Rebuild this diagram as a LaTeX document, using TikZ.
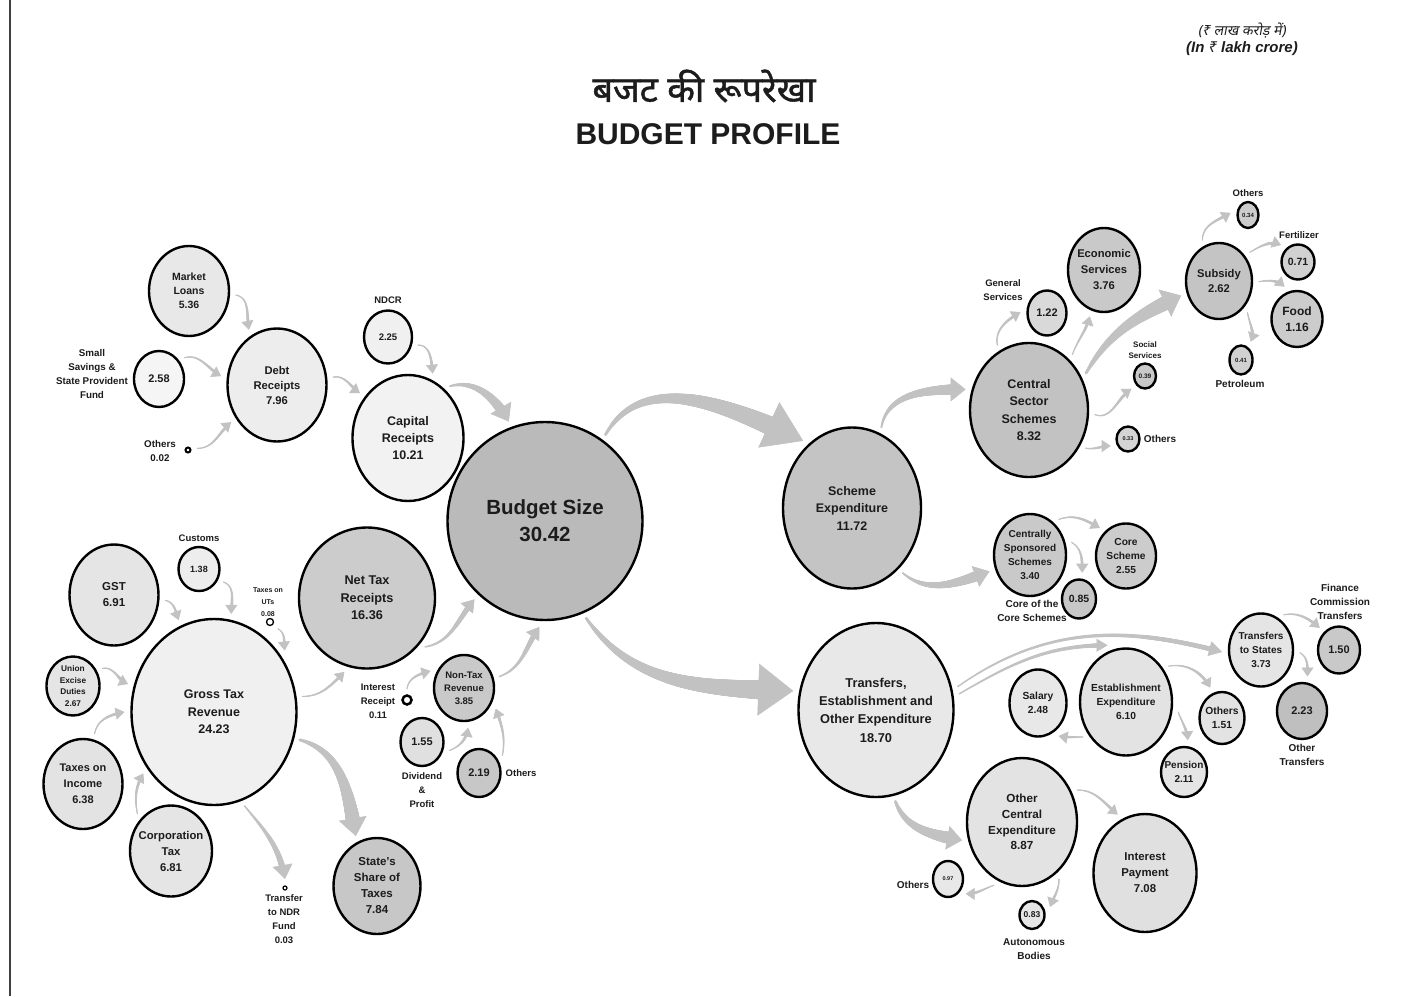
\documentclass[tikz,border=0pt]{standalone}
\usepackage{fontspec}
\setmainfont{Liberation Sans}
\newfontfamily\deva[Script=Devanagari,FakeBold=1.3]{Noto Sans}
\newfontfamily\devai[Script=Devanagari,FakeSlant=0.18]{Noto Sans}
\newfontfamily\rupeefont{Noto Sans}
\usetikzlibrary{shapes.geometric,arrows.meta,decorations.markings}
\newcommand\fsz[2]{\fontsize{#1}{#2}\selectfont}
\definecolor{txt}{HTML}{1C1C1C}
\colorlet{agray}{black!24}
\tikzset{
  bub/.style={ellipse, draw=black, line width=2.4pt, inner sep=0pt, outer sep=7pt},
  lbl/.style={align=center, text=txt, font=\bfseries, inner sep=0pt},
  taper/.style n args={4}{
    draw=agray, line width=0.6pt,
    -{Triangle[length=#3,width=#4]},
    postaction={decorate,decoration={markings,
      mark=between positions 0 and -#3 step 0.6pt with {%
        \pgfmathsetmacro\tapr{#1+(#2-#1)*\pgfkeysvalueof{/pgf/decoration/mark info/distance from start}/\pgfdecoratedpathlength}%
        \fill[agray] (0pt,0pt) circle[radius=\tapr pt];
      }}}
  },
  tarr/.style={taper={0.6}{1.8}{9pt}{12pt}}
}
\newcommand\mkbub[8]{%
  \node[bub, fill=#6, minimum width=#4pt, minimum height=#5pt] (#1) at (#2,-#3) {};
  \node[lbl, font=\bfseries#7] (#1t) at (#2,-#3) {#8};
}
\begin{document}
\begin{tikzpicture}[x=1pt,y=1pt]
\useasboundingbox (0,0) rectangle (1424,-996);
\fill[white] (0,0) rectangle (1424,-996);
\draw[line width=1.6pt, black!75] (10,0) -- (10,-996);

% titles
\node[font=\deva\fsz{36}{40}, text=txt] (h1) at (704,-86) {बजट की रूपरेखा};
\node[font=\bfseries\fsz{30}{36}, text=txt] (h2) at (708,-134) {BUDGET PROFILE};
\node[font=\devai\fsz{14}{16}, text=txt] (u1) at (1242,-31) {(₹ लाख करोड़ में)};
\node[font=\bfseries\itshape\fsz{15}{18}, text=txt] (u2) at (1242,-49) {(In {\rupeefont\bfseries\itshape ₹} lakh crore)};

% ---------- left bubbles
\mkbub{ml}{189}{291}{80}{90}{black!9}{\fsz{10.5}{14}}{Market\\Loans\\5.36}
\mkbub{ss}{159}{379}{50}{56}{black!4}{\fsz{11}{14}}{2.58}
\mkbub{debt}{277}{385}{99}{113}{black!7}{\fsz{11.2}{15}}{Debt\\Receipts\\7.96}
\node[bub, line width=2pt, fill=white, minimum size=5pt] (oth1) at (188,-450) {};
\mkbub{ndcr}{388}{337}{48}{53}{black!6}{\fsz{9.5}{12}}{2.25}
\mkbub{cap}{408}{438}{111}{126}{black!5}{\fsz{12.5}{17}}{Capital\\Receipts\\10.21}
\mkbub{bud}{545}{521}{195}{198}{black!27}{\fsz{20.5}{27}}{Budget Size\\30.42}
\mkbub{gst}{114}{595}{89}{101}{black!10}{\fsz{11.5}{16}}{GST\\6.91}
\mkbub{cus}{199}{569}{41}{44}{black!7}{\fsz{9}{12}}{1.38}
\node[bub, line width=1.3pt, fill=white, minimum size=7pt] (uts) at (270,-622) {};
\mkbub{ued}{73}{686}{53}{59}{black!10}{\fsz{8.3}{11.5}}{Union\\Excise\\Duties\\2.67}
\mkbub{gtr}{214}{712}{165}{186}{black!6}{\fsz{12.5}{17.5}}{Gross Tax\\Revenue\\24.23}
\mkbub{inc}{83}{784}{79}{90}{black!11}{\fsz{11}{16}}{Taxes on\\Income\\6.38}
\mkbub{corp}{171}{851}{82}{91}{black!10}{\fsz{11.3}{16}}{Corporation\\Tax\\6.81}
\mkbub{ntr}{367}{598}{136}{141}{black!20}{\fsz{12.7}{17.5}}{Net Tax\\Receipts\\16.36}
\node[bub, line width=2.5pt, fill=white, minimum size=9pt] (intr) at (407,-700) {};
\mkbub{nontax}{464}{688}{60}{66}{black!21}{\fsz{9.5}{13}}{Non-Tax\\Revenue\\3.85}
\mkbub{div}{422}{742}{43}{48}{black!12}{\fsz{11}{14}}{1.55}
\mkbub{oth219}{479}{773}{43}{48}{black!22}{\fsz{11}{14}}{2.19}
\mkbub{ssh}{377}{886}{87}{96}{black!22}{\fsz{11.5}{16}}{State's\\Share of\\Taxes\\7.84}
\node[bub, line width=1.2pt, fill=white, minimum size=4pt] (ndr) at (285,-888) {};

% ---------- right bubbles
\mkbub{sch}{852}{508}{138}{161}{black!23}{\fsz{12.5}{17.5}}{Scheme\\Expenditure\\11.72}
\mkbub{teoe}{876}{710}{155}{174}{black!9}{\fsz{12.8}{18.3}}{Transfers,\\Establishment and\\Other Expenditure\\18.70}
\mkbub{css}{1029}{410}{118}{134}{black!24}{\fsz{12.5}{17.5}}{Central\\Sector\\Schemes\\8.32}
\mkbub{gen}{1047}{313}{39}{45}{black!15}{\fsz{11}{14}}{1.22}
\mkbub{eco}{1104}{270}{72}{84}{black!21}{\fsz{11.2}{16}}{Economic\\Services\\3.76}
\mkbub{soc}{1145}{376}{22}{25}{black!21}{\fsz{6.5}{8}}{0.39}
\mkbub{oth033}{1128}{439}{23}{25}{black!17}{\fsz{5.5}{7}}{0.33}
\mkbub{sub}{1219}{281}{66}{76}{black!23}{\fsz{11.2}{15.5}}{Subsidy\\2.62}
\mkbub{oth034}{1248}{215}{21}{26}{black!20}{\fsz{6}{7}}{0.34}
\mkbub{fert}{1298}{262}{33}{35}{black!18}{\fsz{10.5}{13}}{0.71}
\mkbub{food}{1297}{319}{51}{56}{black!20}{\fsz{12}{16}}{Food\\1.16}
\mkbub{pet}{1241}{360}{23}{29}{black!18}{\fsz{6}{7}}{0.41}
\mkbub{cssp}{1030}{555}{72}{82}{black!21}{\fsz{10}{14}}{Centrally\\Sponsored\\Schemes\\3.40}
\mkbub{core}{1126}{556}{60}{65}{black!20}{\fsz{10.2}{14}}{Core\\Scheme\\2.55}
\mkbub{coc}{1079}{599}{34}{39}{black!22}{\fsz{10.5}{13}}{0.85}
\mkbub{tts}{1261}{650}{64}{73}{black!10}{\fsz{10}{14}}{Transfers\\to States\\3.73}
\mkbub{fct}{1339}{650}{42}{47}{black!21}{\fsz{11}{14}}{1.50}
\mkbub{otr}{1302}{711}{50}{56}{black!25}{\fsz{11}{14}}{2.23}
\mkbub{sal}{1038}{703}{57}{67}{black!9}{\fsz{10.3}{14}}{Salary\\2.48}
\mkbub{est}{1126}{702}{92}{107}{black!11}{\fsz{10.2}{14}}{Establishment\\Expenditure\\6.10}
\mkbub{oth151}{1222}{718}{45}{52}{black!11}{\fsz{10.3}{14}}{Others\\1.51}
\mkbub{pen}{1184}{772}{46}{50}{black!10}{\fsz{10}{14}}{Pension\\2.11}
\mkbub{oce}{1022}{822}{110}{128}{black!11}{\fsz{11.7}{15.7}}{Other\\Central\\Expenditure\\8.87}
\mkbub{intp}{1145}{873}{103}{118}{black!12}{\fsz{11.4}{16}}{Interest\\Payment\\7.08}
\mkbub{oth097}{948}{879}{30}{36}{black!9}{\fsz{5.5}{7}}{0.97}
\mkbub{aut}{1032}{915}{25}{28}{black!10}{\fsz{8.5}{10}}{0.83}

% ---------- outside labels
\node[lbl, font=\bfseries\fsz{9.8}{14}] (lss) at (92,-374) {Small\\Savings \&\\State Provident\\Fund};
\node[lbl, font=\bfseries\fsz{9.8}{14}] (loth1) at (160,-451) {Others\\0.02};
\node[lbl, font=\bfseries\fsz{9.5}{12}] (lndcr) at (388,-300) {NDCR};
\node[lbl, font=\bfseries\fsz{9.5}{12}] (lcus) at (199,-538) {Customs};
\node[lbl, font=\bfseries\fsz{7}{12}] (luts) at (268,-602) {Taxes on\\UTs\\0.08};
\node[lbl, font=\bfseries\fsz{9.5}{14}] (lintr) at (378,-701) {Interest\\Receipt\\0.11};
\node[lbl, font=\bfseries\fsz{9.5}{14}] (ldiv) at (422,-790) {Dividend\\\&\\Profit};
\node[lbl, font=\bfseries\fsz{9.5}{12}] (loth219) at (521,-773) {Others};
\node[lbl, font=\bfseries\fsz{9.5}{14}] (lndr) at (284,-919) {Transfer\\to NDR\\Fund\\0.03};
\node[lbl, font=\bfseries\fsz{9.5}{14}] (lgen) at (1003,-290) {General\\Services};
\node[lbl, font=\bfseries\fsz{8}{11}] (lsoc) at (1145,-350) {Social\\Services};
\node[lbl, font=\bfseries\fsz{10}{12}] (loth033) at (1160,-439) {Others};
\node[lbl, font=\bfseries\fsz{9.5}{12}] (loth034) at (1248,-193) {Others};
\node[lbl, font=\bfseries\fsz{9.5}{12}] (lfert) at (1299,-235) {Fertilizer};
\node[lbl, font=\bfseries\fsz{10}{12}] (lpet) at (1240,-384) {Petroleum};
\node[lbl, font=\bfseries\fsz{10}{13.5}] (lcoc) at (1032,-611) {Core of the\\Core Schemes};
\node[lbl, font=\bfseries\fsz{10}{14}] (lfct) at (1340,-602) {Finance\\Commission\\Transfers};
\node[lbl, font=\bfseries\fsz{10}{14}] (lotr) at (1302,-755) {Other\\Transfers};
\node[lbl, font=\bfseries\fsz{10}{12}] (loth097) at (913,-885) {Others};
\node[lbl, font=\bfseries\fsz{10}{14}] (laut) at (1034,-949) {Autonomous\\Bodies};

% ---------- connectors, left
\draw[tarr] (ml.-5) to[out=-10,in=100] (debt.117);
\draw[tarr] (ss.40) to[out=15,in=150] (debt.171);
\draw[tarr] (oth1.10) to[out=0,in=220] (debt.219);
\draw[tarr] (debt.8) to[out=10,in=145] (cap.137);
\draw[tarr] (ndcr.-15) to[out=0,in=95] (cap.69);
\draw[taper={1}{6}{16pt}{24pt}] (cap.51) to[out=15,in=120] (bud.110);
\draw[tarr] (gst.-6) to[out=-10,in=110] (gtr.111);
\draw[tarr] (cus.-28) to[out=-20,in=90] (gtr.80);
\draw[tarr] (uts.-40) to[out=-30,in=95] (gtr.41);
\draw[tarr] (ued.31) to[out=10,in=155] (gtr.162);
\draw[tarr] (inc.77) to[out=80,in=190] (gtr.180);
\draw[tarr] (corp.132) to[out=100,in=240] (gtr.221);
\draw[tarr] (gtr.10) to[out=0,in=225] (ntr.253);
\draw[taper={1.5}{8}{18pt}{28pt}] (gtr.-18) to[out=-15,in=100] (ssh.113);
\draw[taper={0.8}{3.5}{14pt}{20pt}] (gtr.-72) to[out=-50,in=100] (ndr.90);
\draw[taper={0.8}{3}{12pt}{16pt}] (ntr.-40) to[out=10,in=230] (bud.228);
\draw[taper={0.8}{3}{12pt}{16pt}] (nontax.18) to[out=20,in=235] (bud.267);
\draw[tarr] (intr.90) to[out=80,in=195] (nontax.153);
\draw[tarr] (div.-17) to[out=20,in=260] (nontax.-84);
\draw[tarr] (oth219.37) to[out=80,in=-70] (nontax.-33);

% ---------- connectors, right
\draw[taper={1.5}{11}{38pt}{50pt}] (bud.55) to[out=60,in=155] (sch.126);
\draw[taper={1.5}{11}{35pt}{52pt}] (bud.-67) to[out=-55,in=178] (teoe.167);
\draw[taper={1}{6}{15pt}{24pt}] (sch.70) to[out=80,in=180] (css.162);
\draw[taper={1}{6}{15pt}{22pt}] (sch.-52) to[out=-40,in=200] (cssp.202);
\draw[tarr] (css.116) to[out=100,in=210] (gen.178);
\draw[tarr] (css.52) to[out=70,in=255] (eco.253);
\draw[taper={1.5}{8}{18pt}{30pt}] (css.33) to[out=60,in=205] (sub.201);
\draw[tarr] (css.-4) to[out=-20,in=215] (soc.223);
\draw[tarr] (css.-34) to[out=-10,in=180] (oth033.202);
\draw[tarr] (sub.112) to[out=90,in=210] (oth034.173);
\draw[tarr] (sub.43) to[out=30,in=160] (fert.135);
\draw[tarr] (sub.-1) to[out=10,in=140] (food.111);
\draw[tarr] (sub.-48) to[out=-80,in=70] (pet.62);
\draw[tarr] (cssp.51) to[out=20,in=150] (core.133);
\draw[tarr] (cssp.17) to[out=-30,in=90] (coc.83);
\draw[taper={0.8}{2.5}{13pt}{15pt}] (teoe.16) to[out=35,in=165] (tts.183);
\draw[taper={0.8}{2.2}{11pt}{13pt}] (teoe.11) to[out=30,in=180] (est.108);
\draw[tarr] (est.40) to[out=10,in=120] (oth151.111);
\draw[tarr] (est.-11) to[out=-70,in=95] (pen.83);
\draw[tarr] (est.219) to[out=180,in=-10] (sal.-58);
\draw[tarr] (tts.57) to[out=10,in=140] (fct.131);
\draw[tarr] (tts.-4) to[out=-30,in=90] (otr.81);
\draw[taper={1.5}{7}{15pt}{24pt}] (teoe.-78) to[out=-70,in=170] (oce.197);
\draw[tarr] (oce.30) to[out=0,in=140] (intp.115);
\draw[tarr] (oce.246) to[out=200,in=0] (oth097.-40);
\draw[tarr] (oce.-57) to[out=-90,in=70] (aut.24);
\end{tikzpicture}
\end{document}
